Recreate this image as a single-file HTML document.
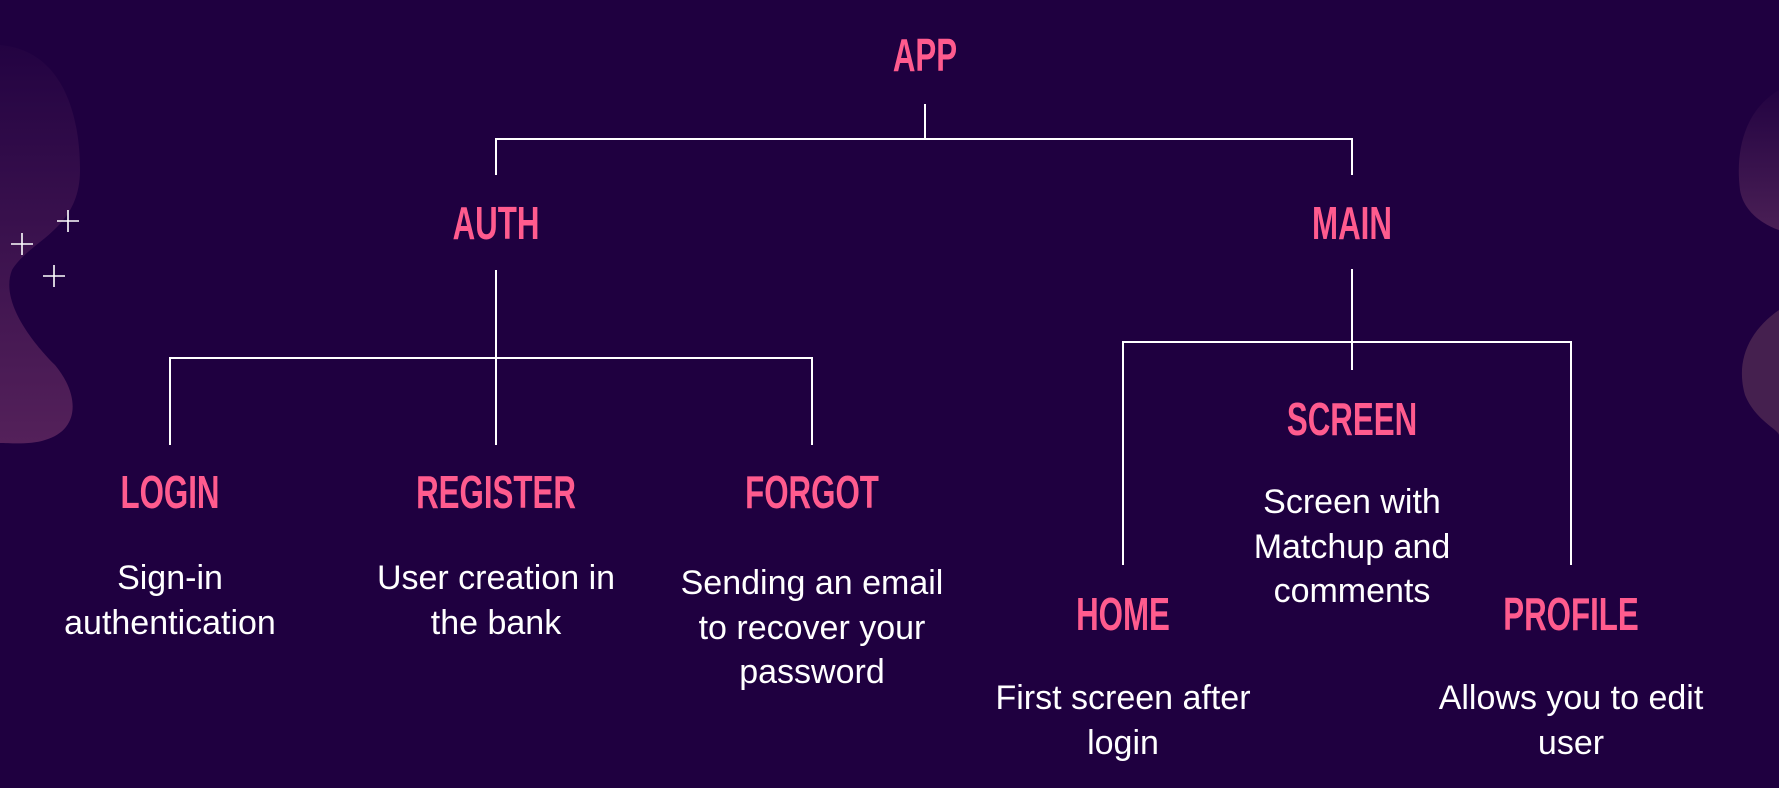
<!DOCTYPE html>
<html><head><meta charset="utf-8"><style>
html,body{margin:0;padding:0;background:#1f0040;}
svg{display:block}
.h{font-family:"Liberation Sans",sans-serif;font-weight:bold;fill:#ff5b8e;font-size:46px;text-anchor:middle}
.d{font-family:"Liberation Sans",sans-serif;fill:#fff;font-size:34px;text-anchor:middle}
</style></head><body>
<svg width="1779" height="788" viewBox="0 0 1779 788" xmlns="http://www.w3.org/2000/svg">
<defs>
<linearGradient id="g1" x1="0" y1="0" x2="0" y2="1">
<stop offset="0" stop-color="#230342"/><stop offset="1" stop-color="#54215a"/></linearGradient>
<linearGradient id="g2" x1="0" y1="0" x2="0" y2="1">
<stop offset="0" stop-color="#230342"/><stop offset="1" stop-color="#4a1f55"/></linearGradient>
</defs>
<rect width="1779" height="788" fill="#1f0040"/>
<path d="M0 45 C60 50 80 110 80 170 C80 230 30 240 12 270 C0 300 30 340 55 365 C80 395 80 430 45 440 C30 445 10 443 0 443 Z" fill="url(#g1)"/>
<path d="M1779 90 C1745 110 1735 150 1740 190 C1745 220 1779 230 1779 230 Z" fill="url(#g2)"/>
<path d="M1779 310 C1750 330 1735 360 1745 395 C1755 420 1779 430 1779 435 Z" fill="#45204f"/>
<g stroke="#fff" stroke-width="1.6">
<line x1="57" y1="221" x2="79" y2="221"/><line x1="68" y1="210" x2="68" y2="232"/>
<line x1="11" y1="244" x2="33" y2="244"/><line x1="22" y1="233" x2="22" y2="255"/>
<line x1="43" y1="276" x2="65" y2="276"/><line x1="54" y1="265" x2="54" y2="287"/>
</g>
<g stroke="#fff" stroke-width="2" fill="none">
<line x1="925" y1="104" x2="925" y2="139"/>
<polyline points="496,175 496,139 1352,139 1352,175"/>
<line x1="496" y1="270" x2="496" y2="445"/>
<polyline points="170,445 170,358 812,358 812,445"/>
<line x1="1352" y1="269" x2="1352" y2="370"/>
<polyline points="1123,565 1123,342 1571,342 1571,565"/>
</g>
<g class="h">
<text transform="translate(925,71) scale(0.68,1)">APP</text>
<text transform="translate(496,239) scale(0.68,1)">AUTH</text>
<text transform="translate(1352,239) scale(0.68,1)">MAIN</text>
<text transform="translate(170,508) scale(0.68,1)">LOGIN</text>
<text transform="translate(496,508) scale(0.68,1)">REGISTER</text>
<text transform="translate(812,508) scale(0.68,1)">FORGOT</text>
<text transform="translate(1352,435) scale(0.68,1)">SCREEN</text>
<text transform="translate(1123,630) scale(0.68,1)">HOME</text>
<text transform="translate(1571,630) scale(0.68,1)">PROFILE</text>
</g>
<g class="d">
<text x="170" y="589">Sign-in</text><text x="170" y="634">authentication</text>
<text x="496" y="589">User creation in</text><text x="496" y="634">the bank</text>
<text x="812" y="594">Sending an email</text><text x="812" y="639">to recover your</text><text x="812" y="683">password</text>
<text x="1352" y="513">Screen with</text><text x="1352" y="558">Matchup and</text><text x="1352" y="602">comments</text>
<text x="1123" y="709">First screen after</text><text x="1123" y="754">login</text>
<text x="1571" y="709">Allows you to edit</text><text x="1571" y="754">user</text>
</g>
</svg>
</body></html>
